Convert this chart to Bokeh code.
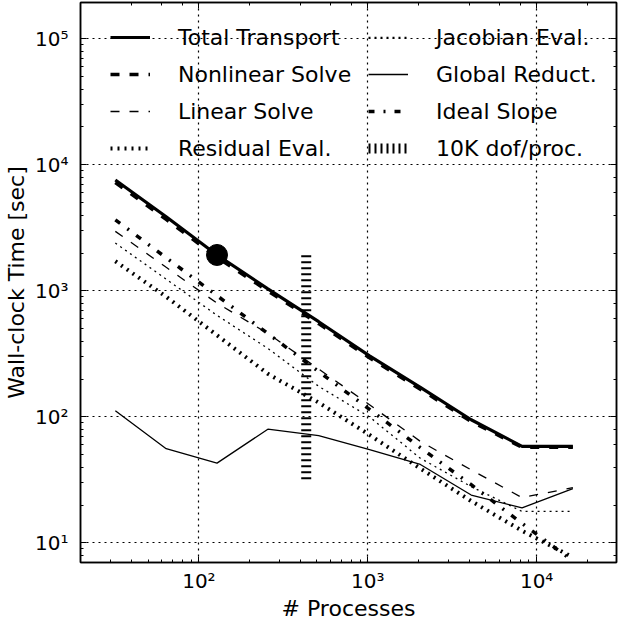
from bokeh.plotting import figure
from bokeh.models import LogAxis, Legend, LegendItem, CustomJSTickFormatter, Range1d
from bokeh.embed import file_html
from bokeh.resources import INLINE

# ---- data ----
procs = [32, 64, 128, 256, 512, 1024, 2048, 4096, 8192, 16384]
total_transport = [7600, 3880, 1930, 1040, 570, 305, 172, 95, 58.5, 58.5]
nonlinear_solve = [7250, 3700, 1850, 1000, 550, 295, 166, 92, 57.5, 57.5]
linear_solve = [2970, 1540, 800, 460, 240, 125, 64, 38, 22.9, 27.5]
residual_eval = [1720, 900, 445, 220, 130, 72, 39, 21.5, 12.5, 7.7]
jacobian_eval = [2400, 1240, 640, 350, 175, 100, 47, 28, 17.8, 17.8]
global_reduct = [112, 56, 43, 80, 71, 55, 42, 24, 19, 27]
ideal_slope = [3670, 1835, 918, 459, 229, 115, 57, 29, 14.3, 7.2]
highlight_x = [128]
highlight_y = [1930]
dof_line_x = [432, 432]
dof_line_y = [32, 2000]

FONT = "DejaVu Sans"

p = figure(width=618, height=623, x_axis_type="log", y_axis_type="log",
           x_range=Range1d(19.9, 29700), y_range=Range1d(7.0, 1.945e5),
           output_backend="svg", toolbar_location=None,
           min_border_left=80, min_border_right=2, min_border_top=2, min_border_bottom=59,
           background_fill_color="white", border_fill_color="white")

p.outline_line_color = "black"
p.outline_line_width = 1.5

fmt = CustomJSTickFormatter(code="""
const sup = {"0":"\u2070","1":"\u00b9","2":"\u00b2","3":"\u00b3","4":"\u2074","5":"\u2075","6":"\u2076","7":"\u2077","8":"\u2078","9":"\u2079","-":"\u207b"};
const e = Math.round(Math.log10(tick));
return "10" + String(e).split("").map(c => sup[c]).join("");
""")

for ax in (p.xaxis[0], p.yaxis[0]):
    ax.formatter = fmt
    ax.major_tick_in = 6
    ax.major_tick_out = 0
    ax.minor_tick_in = 3
    ax.minor_tick_out = 0
    ax.axis_line_color = "black"
    ax.axis_line_width = 1.5
    ax.major_tick_line_color = "black"
    ax.minor_tick_line_color = "black"
    ax.major_label_text_font = FONT
    ax.major_label_text_font_size = "20px"
    ax.major_label_text_color = "black"
    ax.axis_label_text_font = FONT
    ax.axis_label_text_font_style = "normal"
    ax.axis_label_text_color = "black"
    ax.axis_label_text_font_size = "22px"

p.xaxis[0].axis_label = "# Processes"
p.xaxis[0].major_label_standoff = 6
p.xaxis[0].axis_label_standoff = 0
p.yaxis[0].axis_label = "Wall-clock Time [sec]"
p.yaxis[0].major_label_standoff = 12
p.yaxis[0].axis_label_standoff = 3

for loc in ("right", "above"):
    ax = LogAxis()
    ax.major_label_text_font_size = "1px"
    ax.major_label_text_alpha = 0
    ax.major_label_standoff = 0
    ax.major_tick_in = 6
    ax.major_tick_out = 0
    ax.minor_tick_in = 3
    ax.minor_tick_out = 0
    ax.axis_line_color = "black"
    ax.axis_line_width = 1.5
    p.add_layout(ax, loc)

for g in (p.xgrid[0], p.ygrid[0]):
    g.grid_line_color = "black"
    g.grid_line_dash = "2 4"
    g.grid_line_width = 1.2

r_dof = p.line(dof_line_x, dof_line_y, line_width=10, line_dash="2 4", color="black")
r_glob = p.line(procs, global_reduct, line_width=1.3, color="black")
r_jac = p.line(procs, jacobian_eval, line_width=1.3, line_dash="2 4", color="black")
r_res = p.line(procs, residual_eval, line_width=4, line_dash="2 5", color="black")
r_lin = p.line(procs, linear_solve, line_width=1.3, line_dash="9 10", color="black")
r_ideal = p.line(procs, ideal_slope, line_width=3.5, line_dash="6 9 2 9", color="black")
r_nl = p.line(procs, nonlinear_solve, line_width=3.5, line_dash="9 10", color="black")
r_tot = p.line(procs, total_transport, line_width=3.2, color="black")
p.scatter(highlight_x, highlight_y, size=21, color="black")

def make_legend(items, x):
    leg = Legend(items=[LegendItem(label=l, renderers=[r]) for l, r in items],
                 location=(x, 401), orientation="vertical")
    leg.label_text_font = FONT
    leg.label_text_font_size = "22px"
    leg.label_text_color = "black"
    leg.glyph_width = 40
    leg.glyph_height = 26
    leg.label_height = 26
    leg.label_standoff = 28
    leg.spacing = 11
    leg.padding = 0
    leg.margin = 0
    leg.border_line_color = None
    leg.background_fill_alpha = 0
    return leg

leg1 = make_legend([("Total Transport", r_tot), ("Nonlinear Solve", r_nl),
                    ("Linear Solve", r_lin), ("Residual Eval.", r_res)], 30)
leg2 = make_legend([("Jacobian Eval.", r_jac), ("Global Reduct.", r_glob),
                    ("Ideal Slope", r_ideal), ("10K dof/proc.", r_dof)], 288)
p.add_layout(leg1)
p.add_layout(leg2)

open("out.html", "w").write(file_html(p, INLINE))
